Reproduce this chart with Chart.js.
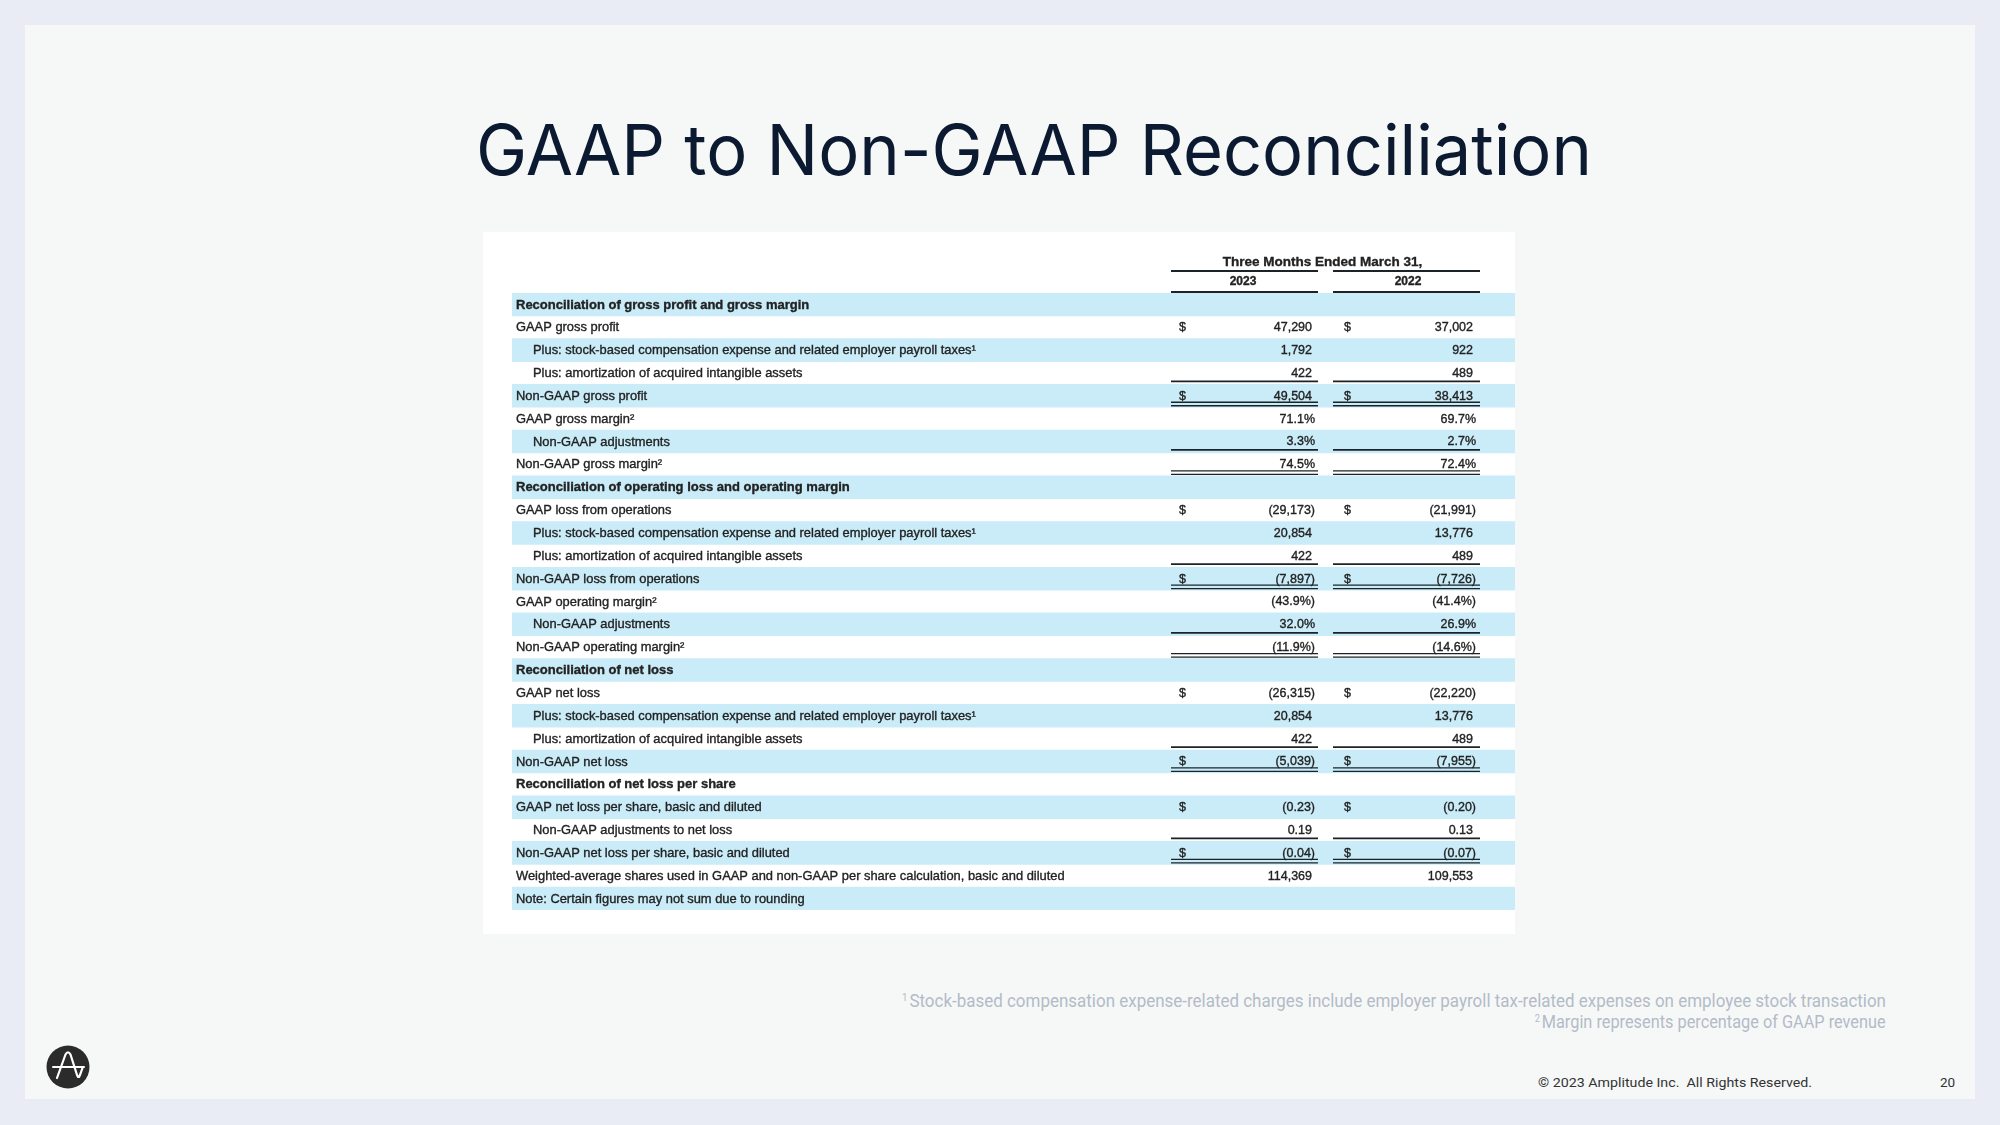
<!DOCTYPE html>
<html>
<head>
<meta charset="utf-8">
<script src="https://cdn.jsdelivr.net/npm/chart.js@4.4.0/dist/chart.umd.min.js"></script>
<style>
  body { margin:0; width:2000px; height:1125px; background:#e9ecf4; overflow:hidden; position:relative; }
  .panel { position:absolute; left:25px; top:25px; width:1950px; height:1074px; background:#f6f8f8; }
  #title { position:absolute; left:476px; top:115px; margin:0; font:400 70px Inter, sans-serif; color:#0b1a30; line-height:1; white-space:nowrap; transform-origin:left top; }
  #box { position:absolute; left:483px; top:232px; width:1032px; height:702px; background:#fff; }
  .note { position:absolute; right:114px; font:400 17.5px Roboto, sans-serif; color:#b3bbc7; line-height:1; white-space:nowrap; transform-origin:right top; }
  .note sup { font-size:10px; vertical-align:6px; line-height:0; margin-right:2px; }
  .foot { position:absolute; font:400 13.5px Roboto, sans-serif; color:#333; line-height:1; white-space:nowrap; }
  #logo { position:absolute; left:46px; top:1045px; }
</style>
</head>
<body>
<div class="panel"></div>
<h1 id="title">GAAP to Non-GAAP Reconciliation</h1>
<div id="box"><canvas id="table" width="1032" height="702"></canvas></div>
<div class="note" id="n1" style="top:993px"><sup>1</sup>Stock-based compensation expense-related charges include employer payroll tax-related expenses on employee stock transaction</div>
<div class="note" id="n2" style="top:1014px"><sup>2</sup>Margin represents percentage of GAAP revenue</div>
<div class="foot" id="copy" style="right:188px; top:1076px; transform-origin:right top">© 2023 Amplitude Inc.&nbsp; All Rights Reserved.</div>
<div class="foot" style="left:1940px; top:1076px">20</div>
<svg id="logo" width="44" height="44" viewBox="0 0 44 44">
  <circle cx="22" cy="22" r="21.5" fill="#2b2b2b"/>
  <path d="M11 33 L19.5 9.5 Q22 5 24.5 9.5 L31 30 Q32.5 34 34 30 L36.5 23" fill="none" stroke="#fff" stroke-width="2.2" stroke-linecap="round" stroke-linejoin="round"/>
  <path d="M7 22 L38 22" stroke="#fff" stroke-width="2" stroke-linecap="round"/>
</svg>
<script>
const rowLabels = [
  'Reconciliation of gross profit and gross margin',
  'GAAP gross profit',
  'Plus: stock-based compensation expense and related employer payroll taxes¹',
  'Plus: amortization of acquired intangible assets',
  'Non-GAAP gross profit',
  'GAAP gross margin²',
  'Non-GAAP adjustments',
  'Non-GAAP gross margin²',
  'Reconciliation of operating loss and operating margin',
  'GAAP loss from operations',
  'Plus: stock-based compensation expense and related employer payroll taxes¹',
  'Plus: amortization of acquired intangible assets',
  'Non-GAAP loss from operations',
  'GAAP operating margin²',
  'Non-GAAP adjustments',
  'Non-GAAP operating margin²',
  'Reconciliation of net loss',
  'GAAP net loss',
  'Plus: stock-based compensation expense and related employer payroll taxes¹',
  'Plus: amortization of acquired intangible assets',
  'Non-GAAP net loss',
  'Reconciliation of net loss per share',
  'GAAP net loss per share, basic and diluted',
  'Non-GAAP adjustments to net loss',
  'Non-GAAP net loss per share, basic and diluted',
  'Weighted-average shares used in GAAP and non-GAAP per share calculation, basic and diluted',
  'Note: Certain figures may not sum due to rounding'
];
const values2023 = [null, 47290, 1792, 422, 49504, 71.1, 3.3, 74.5,
  null, -29173, 20854, 422, -7897, -43.9, 32.0, -11.9,
  null, -26315, 20854, 422, -5039,
  null, -0.23, 0.19, -0.04, 114369, null];
const values2022 = [null, 37002, 922, 489, 38413, 69.7, 2.7, 72.4,
  null, -21991, 13776, 489, -7726, -41.4, 26.9, -14.6,
  null, -22220, 13776, 489, -7955,
  null, -0.20, 0.13, -0.07, 109553, null];
const columnYears = ['2023', '2022'];
const periodLabel = 'Three Months Ended March 31,';

const percentRows = [5, 6, 7, 13, 14, 15];
const perShareRows = [22, 23, 24];
const dollarRows = [1, 4, 9, 12, 17, 20, 22, 24];
const boldRows = [0, 8, 16, 21];
const indentRows = [2, 3, 6, 10, 11, 14, 18, 19, 23];
const singleRuleRows = [3, 6, 11, 14, 19, 23];
const doubleRuleRows = [4, 7, 12, 15, 20, 24];

// page x positions of the columns
const X_MIN = 512, X_MAX = 1515;
const COLS = [
  {dollar: 1179, right: 1312, ruleL: 1171, ruleR: 1318, head: 1243},
  {dollar: 1344, right: 1473, ruleL: 1333, ruleR: 1480, head: 1408}
];
const INK = '#222222';
const BAND = '#c9ecf8';
const FONT = '"Liberation Sans", Arial, sans-serif';

function fmt(v, i) {
  if (v === null) return '';
  let s;
  if (percentRows.includes(i)) s = Math.abs(v).toFixed(1) + '%';
  else if (perShareRows.includes(i)) s = Math.abs(v).toFixed(2);
  else s = Math.abs(v).toLocaleString('en-US');
  return v < 0 ? '(' + s + ')' : s;
}

// draw text a little heavier, like the scanned original
function ink(ctx, s, px, py) {
  ctx.fillText(s, px, py);
  ctx.strokeText(s, px, py);
}

const tablePlugin = {
  id: 'tableText',
  afterDatasetsDraw(chart) {
    const {ctx, scales: {x, y}} = chart;
    const rowH = y.getPixelForValue(1) - y.getPixelForValue(0);
    const top0 = y.getPixelForValue(0) - rowH / 2;
    ctx.save();
    ctx.fillStyle = INK;
    ctx.textBaseline = 'middle';

    const rule = (c, yy, w) => {
      ctx.strokeStyle = '#1b2328';
      ctx.lineWidth = w;
      ctx.beginPath();
      ctx.moveTo(x.getPixelForValue(c.ruleL), yy);
      ctx.lineTo(x.getPixelForValue(c.ruleR), yy);
      ctx.stroke();
    };
    const setText = () => { ctx.strokeStyle = INK; ctx.lineWidth = 0.35; };

    // column header
    COLS.forEach((c, k) => {
      rule(c, top0 - 22, 1.8);
      rule(c, top0 - 1, 1.8);
    });
    setText();
    ctx.font = 'bold 13.5px ' + FONT;
    ctx.textAlign = 'center';
    ink(ctx, periodLabel, x.getPixelForValue((COLS[0].head + COLS[1].head) / 2 - 3), top0 - 31);
    ctx.font = 'bold 12px ' + FONT;
    COLS.forEach((c, k) => ink(ctx, columnYears[k], x.getPixelForValue(c.head), top0 - 11));

    rowLabels.forEach((label, i) => {
      const cy = y.getPixelForValue(i) + 0.5;
      const bottom = cy - 0.5 + rowH / 2;
      setText();
      ctx.font = (boldRows.includes(i) ? 'bold 13px ' : '12.9px ') + FONT;
      ctx.textAlign = 'left';
      ink(ctx, label, x.getPixelForValue(indentRows.includes(i) ? 533 : 516), cy);

      [values2023[i], values2022[i]].forEach((v, k) => {
        const c = COLS[k];
        const s = fmt(v, i);
        setText();
        ctx.font = '12.5px ' + FONT;
        if (dollarRows.includes(i)) {
          ctx.textAlign = 'left';
          ink(ctx, '$', x.getPixelForValue(c.dollar), cy);
        }
        if (s) {
          const hang = /[)%]$/.test(s) ? 3 : 0;
          ctx.textAlign = 'right';
          ink(ctx, s, x.getPixelForValue(c.right + hang), cy);
        }
        if (singleRuleRows.includes(i)) rule(c, bottom - 3, 1.8);
        if (doubleRuleRows.includes(i)) {
          rule(c, bottom - 5, 1.3);
          rule(c, bottom - 1.5, 1.3);
        }
      });
    });
    ctx.restore();
  }
};

new Chart(document.getElementById('table'), {
  type: 'bar',
  data: {
    labels: rowLabels,
    datasets: [{
      data: rowLabels.map(() => X_MAX),
      backgroundColor: (c) => c.dataIndex % 2 === 0 ? BAND : 'rgba(0,0,0,0)',
      borderWidth: 0,
      barPercentage: 1,
      categoryPercentage: 1
    }]
  },
  options: {
    indexAxis: 'y',
    responsive: false,
    animation: false,
    devicePixelRatio: 1,
    layout: {padding: {left: X_MIN - 483, right: 0, top: 61, bottom: 24}},
    scales: {
      x: {display: false, min: X_MIN, max: X_MAX},
      y: {display: false}
    },
    plugins: {legend: {display: false}, tooltip: {enabled: false}}
  },
  plugins: [tablePlugin]
});

function fitWidth(id, w) {
  const el = document.getElementById(id);
  const r = el.getBoundingClientRect().width;
  el.style.transform = 'scaleX(' + (w / r) + ')';
}
fitWidth('title', 1116);
fitWidth('n1', 984);
fitWidth('n2', 2000 - 114 - 1535);
fitWidth('copy', 274);
</script>
</body>
</html>
